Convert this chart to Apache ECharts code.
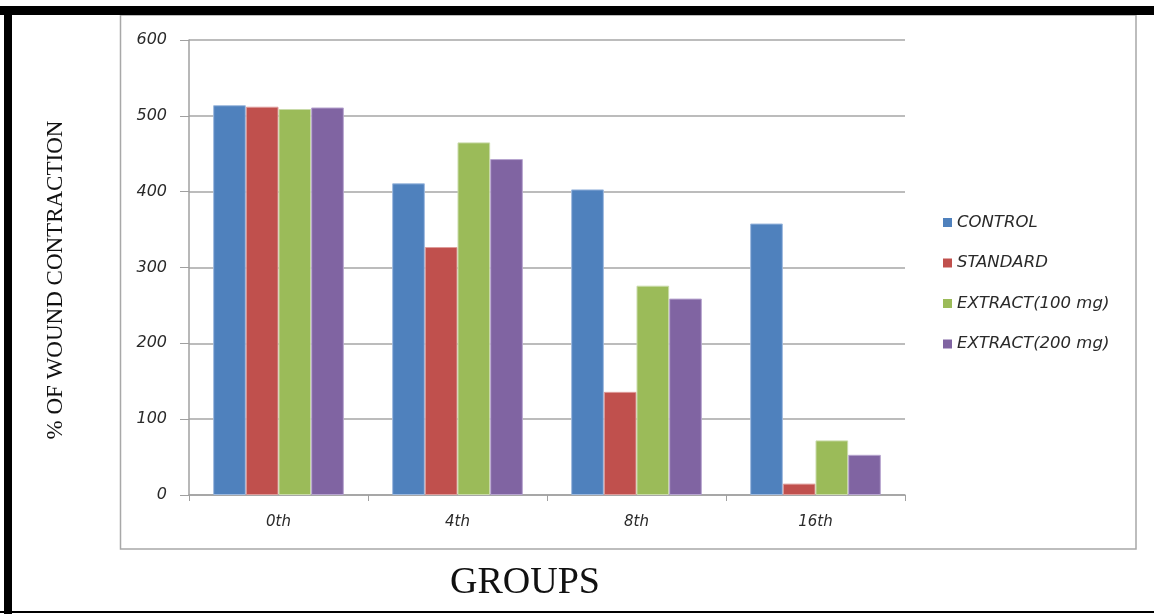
<!DOCTYPE html>
<html><head><meta charset="utf-8">
<script src="https://cdn.jsdelivr.net/npm/echarts@6/dist/echarts.min.js"></script>
<style>html,body{margin:0;padding:0;background:#fff;}#c{width:1154px;height:614px;}</style>
</head><body><div id="c"></div>
<script>
const categories = ['0th', '4th', '8th', '16th'];
const seriesNames = ['CONTROL', 'STANDARD', 'EXTRACT(100 mg)', 'EXTRACT(200 mg)'];
const control = [514, 411, 403, 358];
const standard = [512, 327, 136, 15];
const extract100 = [509, 465, 276, 72];
const extract200 = [511, 443, 259, 53];
const colors = ['#4F81BD', '#C0504D', '#9BBB59', '#8064A2'];
const borders = ['#9DB9DE', '#DE9C9A', '#C9DBA9', '#B7A5CF'];
const values = [control, standard, extract100, extract200];

const labelFont = {fontFamily: 'DejaVu Sans', fontStyle: 'italic', fontSize: 15, color: '#2a2a2a'};
const chart = echarts.init(document.getElementById('c'));
chart.setOption({
  backgroundColor: '#fff',
  animation: false,
  grid: {left: 189, right: 249, top: 40, bottom: 119},
  legend: {
    orient: 'vertical', left: 938, top: 209, itemGap: 23.5,
    itemWidth: 9, itemHeight: 9, icon: 'rect',
    itemStyle: {borderWidth: 0},
    textStyle: {fontFamily: 'DejaVu Sans', fontStyle: 'italic', fontSize: 16.5, color: '#2a2a2a'},
    data: seriesNames
  },
  xAxis: {
    type: 'category', data: categories,
    axisLine: {lineStyle: {color: '#A0A0A0', width: 1.5}},
    axisTick: {show: true, length: 6, lineStyle: {color: '#A0A0A0'}},
    axisLabel: Object.assign({margin: 20}, labelFont)
  },
  yAxis: {
    type: 'value', min: 0, max: 600, interval: 100,
    axisLine: {show: true, lineStyle: {color: '#A0A0A0', width: 1.5}},
    axisTick: {show: true, length: 9, lineStyle: {color: '#A0A0A0'}},
    splitLine: {lineStyle: {color: '#A6A6A6', width: 1.5}},
    axisLabel: Object.assign({margin: 22}, labelFont, {fontSize: 16})
  },
  series: seriesNames.map((n, i) => ({
    name: n, type: 'bar', data: values[i],
    barCategoryGap: '27%', barGap: '0%',
    itemStyle: {color: colors[i], borderColor: borders[i], borderWidth: 1}
  })),
  graphic: [
    {type: 'rect', shape: {x: 0, y: 6, width: 1154, height: 9}, style: {fill: '#000'}, silent: true},
    {type: 'rect', shape: {x: 4, y: 6, width: 8, height: 608}, style: {fill: '#000'}, silent: true},
    {type: 'rect', shape: {x: 0, y: 611, width: 1154, height: 2}, style: {fill: '#000'}, silent: true},
    {type: 'rect', shape: {x: 120.5, y: 15, width: 1015.5, height: 534}, style: {fill: 'none', stroke: '#A8A8A8', lineWidth: 1.5}, silent: true, z: -1},
    {type: 'text', x: 56, y: 280, rotation: Math.PI / 2, style: {text: '% OF WOUND CONTRACTION', font: '23px "Liberation Serif"', fill: '#111', textAlign: 'center', textVerticalAlign: 'middle'}, silent: true},
    {type: 'text', x: 525, y: 583, style: {text: 'GROUPS', font: '38px "Liberation Serif"', fill: '#111', textAlign: 'center', textVerticalAlign: 'middle'}, silent: true}
  ]
});
</script></body></html>
